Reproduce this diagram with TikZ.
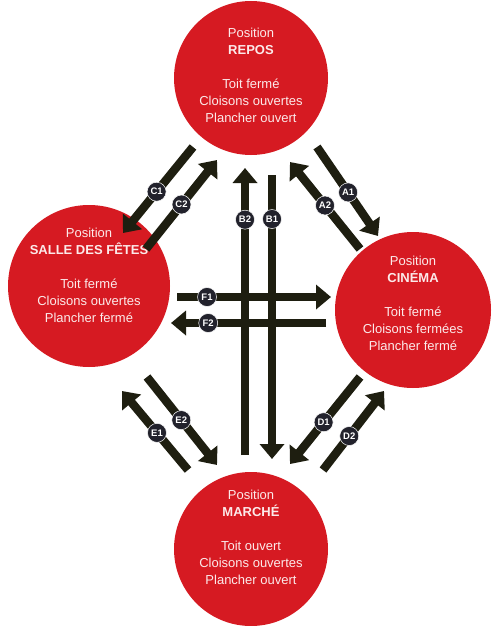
\documentclass[tikz,border=0pt]{standalone}
\usepackage{fontspec}
\setmainfont{Liberation Sans}
\usetikzlibrary{arrows.meta}
\definecolor{discred}{RGB}{214,26,34}
\definecolor{arrowcol}{RGB}{30,30,16}
\definecolor{labcol}{RGB}{34,34,44}
\definecolor{txtcol}{RGB}{252,234,234}
\tikzset{
  disc/.style={circle, fill=discred, draw=none, minimum size=#1, inner sep=0pt},
  disctext/.style={align=center, text=txtcol, font=\fontsize{13}{17}\selectfont, inner sep=0pt},
  movearrow/.style={draw=arrowcol, line width=8.5pt, -{Triangle[width=24pt,length=15pt]}},
  lab/.style={circle, fill=labcol, draw=white, line width=0.5pt, minimum size=19pt, inner sep=0pt,
    text=white, font=\fontsize{9.5}{10}\selectfont\bfseries},
}
\begin{document}
\begin{tikzpicture}[x=1pt,y=-1pt]
\useasboundingbox (0,0) rectangle (492,626);
\fill[white] (0,0) rectangle (492,626);
% circles
\node[disc=154pt] (repos) at (251,78) {};
\node[disc=162pt] (salle) at (89,286) {};
\node[disc=156pt] (cinema) at (413,310) {};
\node[disc=154pt] (marche) at (251,549) {};
% texts
\node[disctext] (treposs) at (251,75) {Position\\\textbf{REPOS}\\[17pt]Toit fermé\\Cloisons ouvertes\\Plancher ouvert};
\node[disctext] (tsalle) at (89,275) {Position\\\textbf{SALLE DES FÊTES}\\[17pt]Toit fermé\\Cloisons ouvertes\\Plancher fermé};
\node[disctext] (tcinema) at (413,303) {Position\\\textbf{CINÉMA}\\[17pt]Toit fermé\\Cloisons fermées\\Plancher fermé};
\node[disctext] (tmarche) at (251,537) {Position\\\textbf{MARCHÉ}\\[17pt]Toit ouvert\\Cloisons ouvertes\\Plancher ouvert};
% arrow end points
\coordinate (c1s) at (193,147); \coordinate (c1e) at (123,233);
\coordinate (c2s) at (146,249); \coordinate (c2e) at (217,160);
\coordinate (a1s) at (317,147); \coordinate (a1e) at (378,236);
\coordinate (a2s) at (360,249); \coordinate (a2e) at (290,162);
\coordinate (b2s) at (245,455); \coordinate (b2e) at (245,168);
\coordinate (b1s) at (272,175); \coordinate (b1e) at (272,459);
\coordinate (f1s) at (177,297); \coordinate (f1e) at (331,297);
\coordinate (f2s) at (326,323); \coordinate (f2e) at (171,323);
\coordinate (e1s) at (188,470); \coordinate (e1e) at (122,391);
\coordinate (e2s) at (147,377); \coordinate (e2e) at (217,465);
\coordinate (d1s) at (360,377); \coordinate (d1e) at (290,464);
\coordinate (d2s) at (323,470); \coordinate (d2e) at (384,391);
% arrows
\draw[movearrow] (b2s) -- (b2e);
\draw[movearrow] (b1s) -- (b1e);
\draw[movearrow] (f1s) -- (f1e);
\draw[movearrow] (f2s) -- (f2e);
\draw[movearrow] (c1s) -- (c1e);
\draw[movearrow] (c2s) -- (c2e);
\draw[movearrow] (a1s) -- (a1e);
\draw[movearrow] (a2s) -- (a2e);
\draw[movearrow] (e1s) -- (e1e);
\draw[movearrow] (e2s) -- (e2e);
\draw[movearrow] (d1s) -- (d1e);
\draw[movearrow] (d2s) -- (d2e);
% labels
\path (c1s) -- (c1e) node[lab, pos=0.52] (lc1) {C1};
\path (c2s) -- (c2e) node[lab, pos=0.50] (lc2) {C2};
\path (a1s) -- (a1e) node[lab, pos=0.51] (la1) {A1};
\path (a2s) -- (a2e) node[lab, pos=0.50] (la2) {A2};
\path (b2s) -- (b2e) node[lab, pos=0.82] (lb2) {B2};
\path (b1s) -- (b1e) node[lab, pos=0.155] (lb1) {B1};
\path (f1s) -- (f1e) node[lab, pos=0.195] (lf1) {F1};
\path (f2s) -- (f2e) node[lab, pos=0.76] (lf2) {F2};
\path (e1s) -- (e1e) node[lab, pos=0.47] (le1) {E1};
\path (e2s) -- (e2e) node[lab, pos=0.49] (le2) {E2};
\path (d1s) -- (d1e) node[lab, pos=0.52] (ld1) {D1};
\path (d2s) -- (d2e) node[lab, pos=0.43] (ld2) {D2};
\end{tikzpicture}
\end{document}
